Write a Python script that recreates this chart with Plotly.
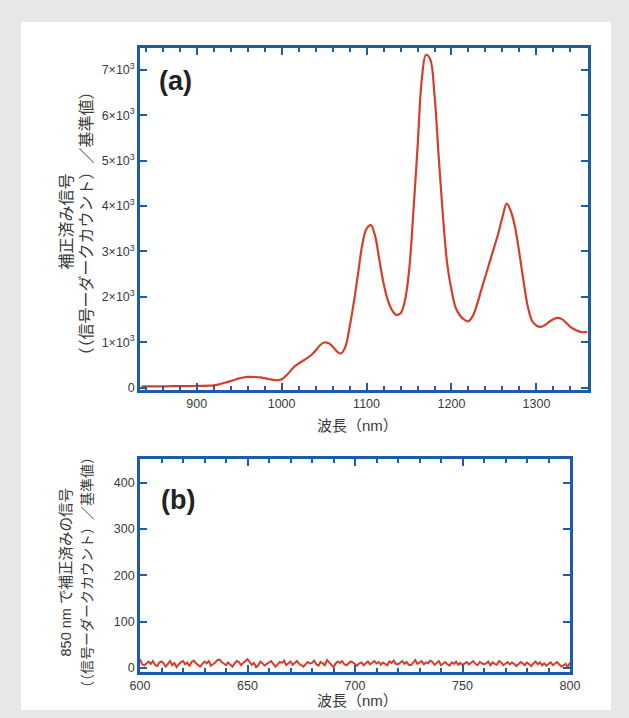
import plotly.graph_objects as go

# ---------- data ----------
wavelength_a = [835, 845, 855, 865, 875, 885, 895, 905, 915, 920, 925, 930, 935, 940,
                945, 950, 955, 960, 965, 970, 975, 980, 985, 990, 995, 1000, 1005,
                1010, 1015, 1020, 1025, 1030, 1035, 1040, 1045, 1050, 1055, 1060,
                1065, 1070, 1075, 1080, 1085, 1090, 1095, 1100, 1105, 1110, 1115,
                1120, 1125, 1130, 1135, 1140, 1145, 1150, 1155, 1160, 1165, 1170,
                1175, 1180, 1185, 1190, 1195, 1200, 1205, 1210, 1215, 1220, 1225,
                1230, 1235, 1240, 1245, 1250, 1255, 1260, 1265, 1270, 1275, 1280,
                1285, 1290, 1295, 1300, 1305, 1310, 1315, 1320, 1325, 1330, 1335,
                1340, 1345, 1350, 1355, 1360]
signal_a = [28, 30, 31, 32, 34, 36, 38, 41, 45, 52, 68, 92, 118, 145,
            175, 205, 225, 237, 240, 236, 226, 210, 192, 172, 165, 185, 260,
            360, 465, 530, 590, 650, 720, 820, 930, 995, 985, 910,
            800, 755, 900, 1330, 1880, 2510, 3150, 3500, 3580, 3350, 2820,
            2300, 1930, 1710, 1605, 1640, 1900, 2560, 3830, 5280, 6780, 7330,
            7230, 6450, 5070, 3760, 2720, 2150, 1760, 1590, 1500, 1464, 1580,
            1830, 2150, 2460, 2770, 3080, 3390, 3760, 4055, 3880, 3520, 2950,
            2320, 1770, 1470, 1370, 1340, 1380, 1450, 1510, 1538, 1510, 1430,
            1340, 1280, 1240, 1222, 1232]

signal_b = [19, 8, 6, 11, 14, 9, 15, 7, 4, 12,
            14, 10, 3, 9, 15, 6, 11, 2, 7, 13,
            15, 8, 12, 4, 13, 16, 10, 6, 3, 9,
            14, 10, 15, 5, 8, 12, 17, 18, 13, 9,
            6, 12, 8, 3, 10, 15, 13, 6, 11, 16,
            19, 13, 7, 11, 2, 6, 14, 10, 5, 9,
            12, 15, 9, 3, 8, 13, 11, 16, 6, 10,
            14, 7, 12, 15, 9, 6, 3, 8, 13, 10,
            11, 16, 8, 5, 13, 10, 6, 17, 12, 7,
            2, 10, 14, 11, 15, 8, 6, 10, 14, 12,
            8, 5, 10, 12, 6, 10, 14, 8, 12, 15,
            10, 13, 7, 12, 9, 6, 14, 11, 16, 9,
            8, 12, 15, 9, 13, 7, 6, 11, 17, 9,
            13, 15, 8, 12, 10, 16, 13, 7, 11, 15,
            6, 10, 13, 8, 5, 12, 9, 14, 7, 11,
            6, 10, 13, 8, 12, 15, 9, 6, 13, 11,
            8, 10, 14, 6, 12, 9, 7, 15, 12, 6,
            10, 13, 8, 12, 9, 4, 8, 13, 10, 6,
            12, 8, 4, 10, 14, 8, 12, 6, 10, 5,
            8, 12, 6, 10, 13, 8, 3, 6, 9, 2,
            12]
wavelength_b = [600 + i for i in range(len(signal_b))]

ytick_vals_a = [0, 1000, 2000, 3000, 4000, 5000, 6000, 7000]
ytick_text_a = ["0"] + [f"{k}×10<sup>3</sup>" for k in range(1, 8)]
xtick_vals_a = [900, 1000, 1100, 1200, 1300]
xtick_vals_b = [600, 650, 700, 750, 800]
ytick_vals_b = [0, 100, 200, 300, 400]

title_x = "波長（nm）"
title_y_a1 = "補正済み信号"
title_y_a2 = "（（信号ーダークカウント）／基準値）"
title_y_b1 = "850 nm で補正済みの信号"
title_y_b2 = "（（信号ーダークカウント）／基準値）"

# ---------- styling ----------
W, H = 629, 718
BLUE = "#1c5ca8"
RED = "#d33f2a"
TXT = "#3a3a3a"
FONT = "Liberation Sans, Arial, Noto Sans CJK JP, sans-serif"

def px(x):
    return x / W

def py(y):
    return 1 - y / H

fig = go.Figure()
fig.add_trace(go.Scatter(x=wavelength_a, y=signal_a, mode="lines",
                         line=dict(color=RED, width=2.2, shape="spline", smoothing=1.0),
                         xaxis="x", yaxis="y", showlegend=False))
fig.add_trace(go.Scatter(x=wavelength_b, y=signal_b, mode="lines",
                         line=dict(color=RED, width=2),
                         xaxis="x2", yaxis="y2", showlegend=False))

axis_common = dict(showline=True, linecolor=BLUE, linewidth=2.6, mirror="allticks",
                   ticks="inside", tickcolor=BLUE, tickwidth=2, showgrid=False,
                   zeroline=False, automargin=False,
                   tickfont=dict(size=12.5, color=TXT, family=FONT))

def ann(text, x, y, size, angle=0, anchor="center", color=TXT):
    return dict(text=text, x=px(x), y=py(y), xref="paper", yref="paper",
                xanchor=anchor, yanchor="middle", showarrow=False, textangle=angle,
                font=dict(size=size, color=color, family=FONT))

fig.update_layout(
    width=W, height=H, autosize=False,
    margin=dict(l=0, r=0, t=0, b=0, pad=0),
    paper_bgcolor="#e6e7e8",
    plot_bgcolor="white",
    font=dict(family=FONT, color=TXT),
    xaxis=dict(domain=[px(140), px(588)], range=[833.3, 1360.7], anchor="y",
               tickvals=xtick_vals_a, ticklen=7,
               minor=dict(dtick=20, tick0=900, ticks="inside", ticklen=4, tickcolor=BLUE, tickwidth=2),
               **axis_common),
    yaxis=dict(domain=[py(390), py(48)], range=[-50, 7480], anchor="x",
               tickvals=ytick_vals_a, ticktext=ytick_text_a, ticklen=7,
               **axis_common),
    xaxis2=dict(domain=[px(140), px(570)], range=[600, 800], anchor="y2",
                tickvals=xtick_vals_b, ticklen=7,
                minor=dict(dtick=10, tick0=600, ticks="inside", ticklen=4, tickcolor=BLUE, tickwidth=2),
                **axis_common),
    yaxis2=dict(domain=[py(672), py(459)], range=[-8.6, 451], anchor="x2",
                tickvals=ytick_vals_b, ticklen=7,
                **axis_common),
    shapes=[dict(type="rect", xref="paper", yref="paper", layer="below",
                 x0=px(21), x1=px(611), y0=py(710), y1=py(22),
                 fillcolor="white", line=dict(width=0))],
    annotations=[
        ann("<b>(a)</b>", 157, 81, 27, anchor="left", color="#222222"),
        ann("<b>(b)</b>", 159, 500, 27, anchor="left", color="#222222"),
        ann(title_x, 357, 425.5, 15),
        ann(title_x, 357, 700, 15),
        ann(title_y_a1, 65.5, 222, 16, angle=-90),
        ann(title_y_a2, 86.5, 224, 16, angle=-90),
        ann(title_y_b1, 65.5, 573, 14.5, angle=-90),
        ann(title_y_b2, 87, 572, 14, angle=-90),
    ],
)

fig.write_html("out.html")
